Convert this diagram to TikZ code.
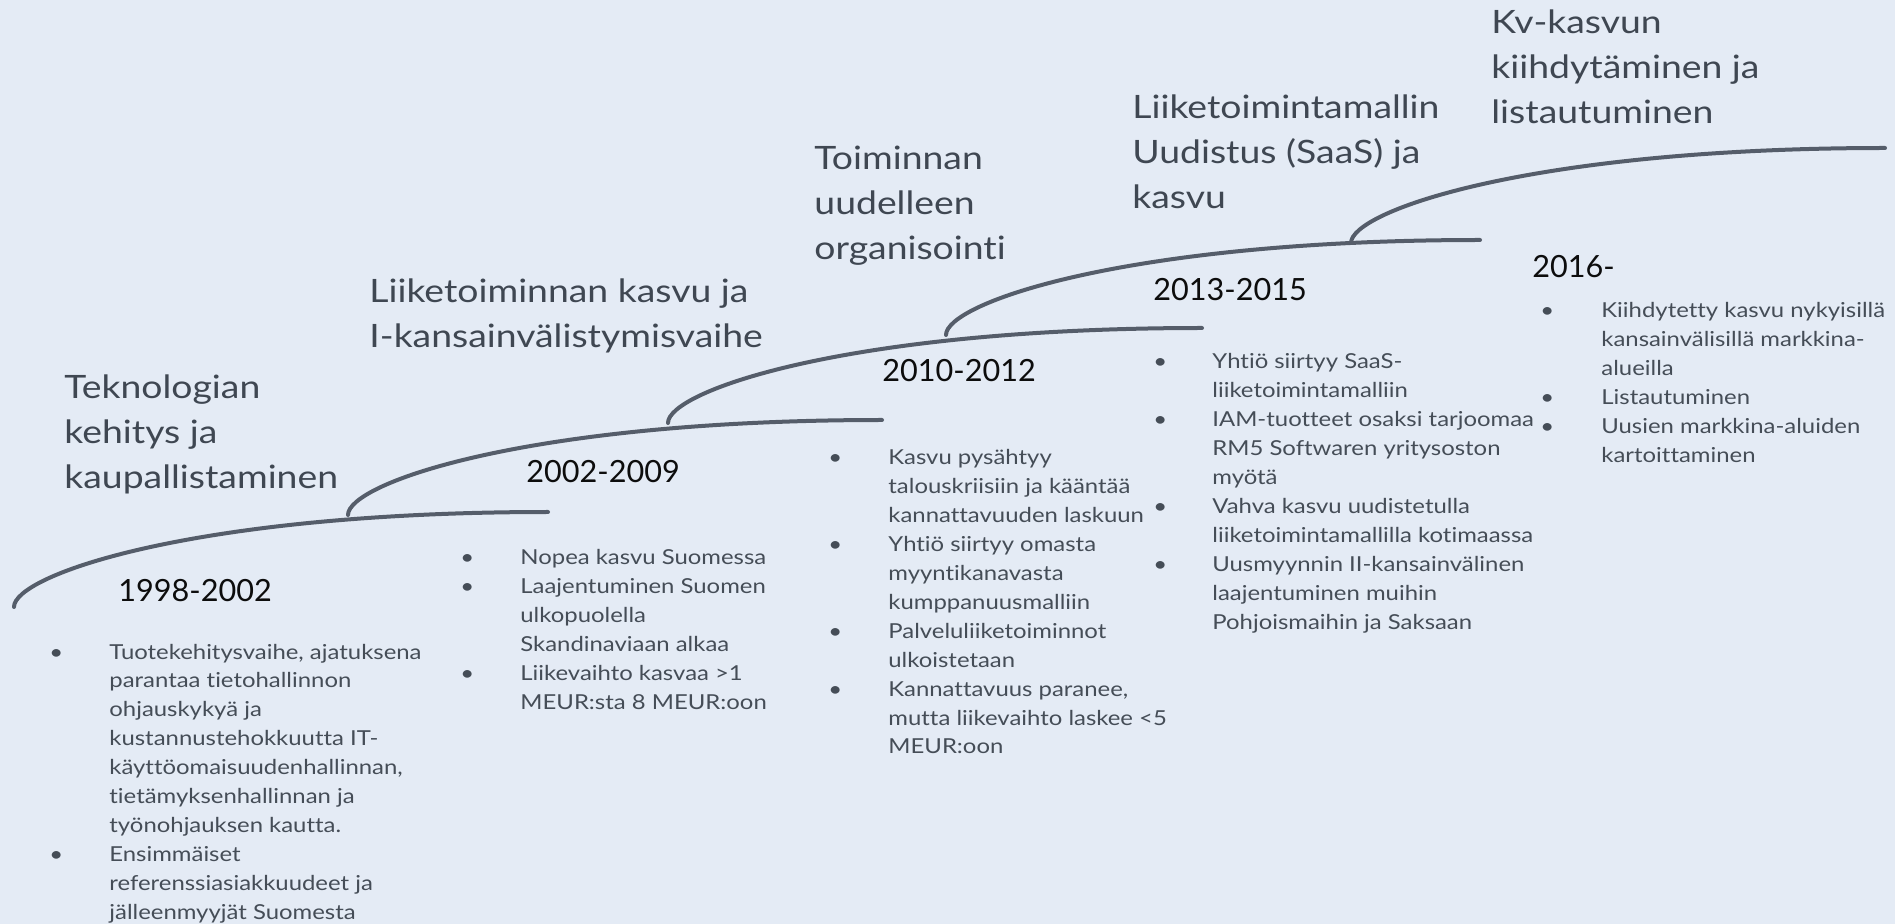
\documentclass[tikz,border=0pt]{standalone}
\usepackage{fontspec}
\setmainfont{Lato}[FakeStretch=1.16,Ligatures=NoCommon]
\newfontfamily\yearfont{Lato}[Ligatures=NoCommon]
\usepackage{tikz}
\usetikzlibrary{calc}
\definecolor{bg}{HTML}{E4EBF5}
\definecolor{phasegray}{HTML}{3F4752}
\definecolor{itemgray}{HTML}{454D57}
\definecolor{curvegray}{HTML}{555D6A}
\newcommand{\bl}{\textbullet}
\tikzset{
  curve/.style={line width=2pt, draw=curvegray, line cap=round},
  phase/.style={anchor=base west, inner sep=0pt, text=phasegray, font=\fontsize{16.1}{22.5}\selectfont},
  year/.style={anchor=base west, inner sep=0pt, text=black!95, font=\yearfont\fontsize{15.3}{19}\selectfont},
  items/.style={anchor=base west, inner sep=0pt, text=itemgray, font=\fontsize{10.3}{14.45}\selectfont}
}

\begin{document}
\begin{tikzpicture}[x=0.5pt,y=-0.5pt]
        \useasboundingbox (0,0) rectangle (1895,924);
        \fill[bg] (0,0) rectangle (1895,924);
        %steps
        \coordinate (c1) at (14,607);
        \coordinate (c2) at (348,515);
        \coordinate (c3) at (668,423);
        \coordinate (c4) at (946,335);
        \coordinate (c5) at (1351,243);
        \foreach \s in {c1,c2,c3,c4,c5} {
        \draw[curve] (\s) .. controls +(0,-32) and +(-354,0) .. ($(\s)+(534,-95)$);}
        %phases
        \node[phase] (t1) at (64,399) {\begin{tabular}[t]{@{}l@{}}Teknologian\\kehitys ja\\kaupallistaminen\end{tabular}};
        \node[phase] (t2) at (369,303) {\begin{tabular}[t]{@{}l@{}}Liiketoiminnan kasvu ja\\I-kansainvälistymisvaihe\end{tabular}};
        \node[phase] (t3) at (814,170) {\begin{tabular}[t]{@{}l@{}}Toiminnan\\uudelleen\\organisointi\end{tabular}};
        \node[phase] (t4) at (1132,119) {\begin{tabular}[t]{@{}l@{}}Liiketoimintamallin\\Uudistus (SaaS) ja\\kasvu\end{tabular}};
        \node[phase] (t5) at (1491,34) {\begin{tabular}[t]{@{}l@{}}Kv-kasvun\\kiihdytäminen ja\\listautuminen\end{tabular}};
        %years
        \node[year] (y1) at (118,602) {1998-2002};
        \node[year] (y2) at (526,483) {2002-2009};
        \node[year] (y3) at (882,382) {2010-2012};
        \node[year] (y4) at (1153,301) {2013-2015};
        \node[year] (y5) at (1532,278) {2016-};
        %items
        \node[items] (l1) at (49,659) {\begin{tabular}[t]{@{}p{30pt}@{}l@{}}
          \bl & Tuotekehitysvaihe, ajatuksena\\
              & parantaa tietohallinnon\\
              & ohjauskykyä ja\\
              & kustannustehokkuutta IT-\\
              & käyttöomaisuudenhallinnan,\\
              & tietämyksenhallinnan ja\\
              & työnohjauksen kautta.\\
          \bl & Ensimmäiset\\
              & referenssiasiakkuudeet ja\\
              & jälleenmyyjät Suomesta\end{tabular}};
        \node[items] (l2) at (460,565) {\begin{tabular}[t]{@{}p{30pt}@{}l@{}}
          \bl & Nopea kasvu Suomessa\\
          \bl & Laajentuminen Suomen\\
              & ulkopuolella\\
              & Skandinaviaan alkaa\\
          \bl & Liikevaihto kasvaa >1\\
              & MEUR:sta 8 MEUR:oon\end{tabular}};
        \node[items] (l3) at (828,465) {\begin{tabular}[t]{@{}p{30pt}@{}l@{}}
          \bl & Kasvu pysähtyy\\
              & talouskriisiin ja kääntää\\
              & kannattavuuden laskuun\\
          \bl & Yhtiö siirtyy omasta\\
              & myyntikanavasta\\
              & kumppanuusmalliin\\
          \bl & Palveluliiketoiminnot\\
              & ulkoistetaan\\
          \bl & Kannattavuus paranee,\\
              & mutta liikevaihto laskee <5\\
              & MEUR:oon\end{tabular}};
        \node[items] (l4) at (1153,369) {\begin{tabular}[t]{@{}p{29.5pt}@{}l@{}}
          \bl & Yhtiö siirtyy SaaS-\\
              & liiketoimintamalliin\\
          \bl & IAM-tuotteet osaksi tarjoomaa\\
              & RM5 Softwaren yritysoston\\
              & myötä\\
          \bl & Vahva kasvu uudistetulla\\
              & liiketoimintamallilla kotimaassa\\
          \bl & Uusmyynnin II-kansainvälinen\\
              & laajentuminen muihin\\
              & Pohjoismaihin ja Saksaan\end{tabular}};
        \node[items] (l5) at (1540,318) {\begin{tabular}[t]{@{}p{30.5pt}@{}l@{}}
          \bl & Kiihdytetty kasvu nykyisillä\\
              & kansainvälisillä markkina-\\
              & alueilla\\
          \bl & Listautuminen\\
          \bl & Uusien markkina-aluiden\\
              & kartoittaminen\end{tabular}};
    \end{tikzpicture}
\end{document}
